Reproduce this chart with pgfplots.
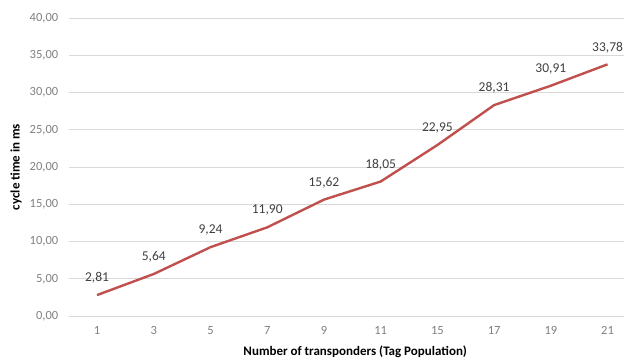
\documentclass[border=0pt]{standalone}
\usepackage{fontspec}
\setmainfont{Carlito}
\usepackage{pgfplots}
\pgfplotsset{compat=1.18}
\definecolor{linered}{HTML}{C0504D}
\definecolor{gridgray}{HTML}{D9D9D9}
\definecolor{ticktext}{HTML}{7F7F7F}
\definecolor{labeltext}{HTML}{404040}
\begin{document}
\begin{tikzpicture}
\begin{axis}[
  scale only axis,
  width=555.3pt, height=298pt,
  xmin=-0.5, xmax=9.29,
  ymin=0, ymax=40,
  ytick={0,5,...,40},
  xtick=data,
  xticklabels={1,3,5,7,9,11,15,17,19,21},
  major tick length=0pt,
  axis line style={draw=none},
  ymajorgrids,
  grid style={gridgray, line width=0.9pt},
  /pgf/number format/.cd, fixed, fixed zerofill, precision=2, use comma, assume math mode=true,
  /pgfplots/.cd,
  yticklabel style={font=\fontsize{12.5}{14}\selectfont, text=ticktext, xshift=-7pt},
  xticklabel style={font=\fontsize{12.5}{14}\selectfont, text=ticktext, yshift=-7pt},
  xlabel={Number of transponders (Tag Population)},
  ylabel={cycle time in ms},
  xlabel style={font=\fontsize{13}{15}\selectfont\bfseries, text=black, at={(rel axis cs:0.516,0)}, anchor=center, yshift=-36pt},
  ylabel style={font=\fontsize{13}{15}\selectfont\bfseries, text=black, at={(rel axis cs:0,0.5)}, anchor=center, yshift=52.7pt},
  nodes near coords,
  every node near coord/.append style={font=\fontsize{13.5}{15}\selectfont, text=labeltext, anchor=center, yshift=17pt, inner sep=0pt},
  clip=false,
]
\addplot[linered, line width=2.4pt, line join=round] coordinates {
 (0,2.81) (1,5.64) (2,9.24) (3,11.90) (4,15.62) (5,18.05) (6,22.95) (7,28.31) (8,30.91) (9,33.78)
};
\coordinate (bl) at (rel axis cs:0,0);
\coordinate (tr) at (rel axis cs:1,1);
\end{axis}
\pgfresetboundingbox
\path ([shift={(-68.7pt,-43pt)}]bl) rectangle ([shift={(0pt,18pt)}]tr);
\end{tikzpicture}
\end{document}
